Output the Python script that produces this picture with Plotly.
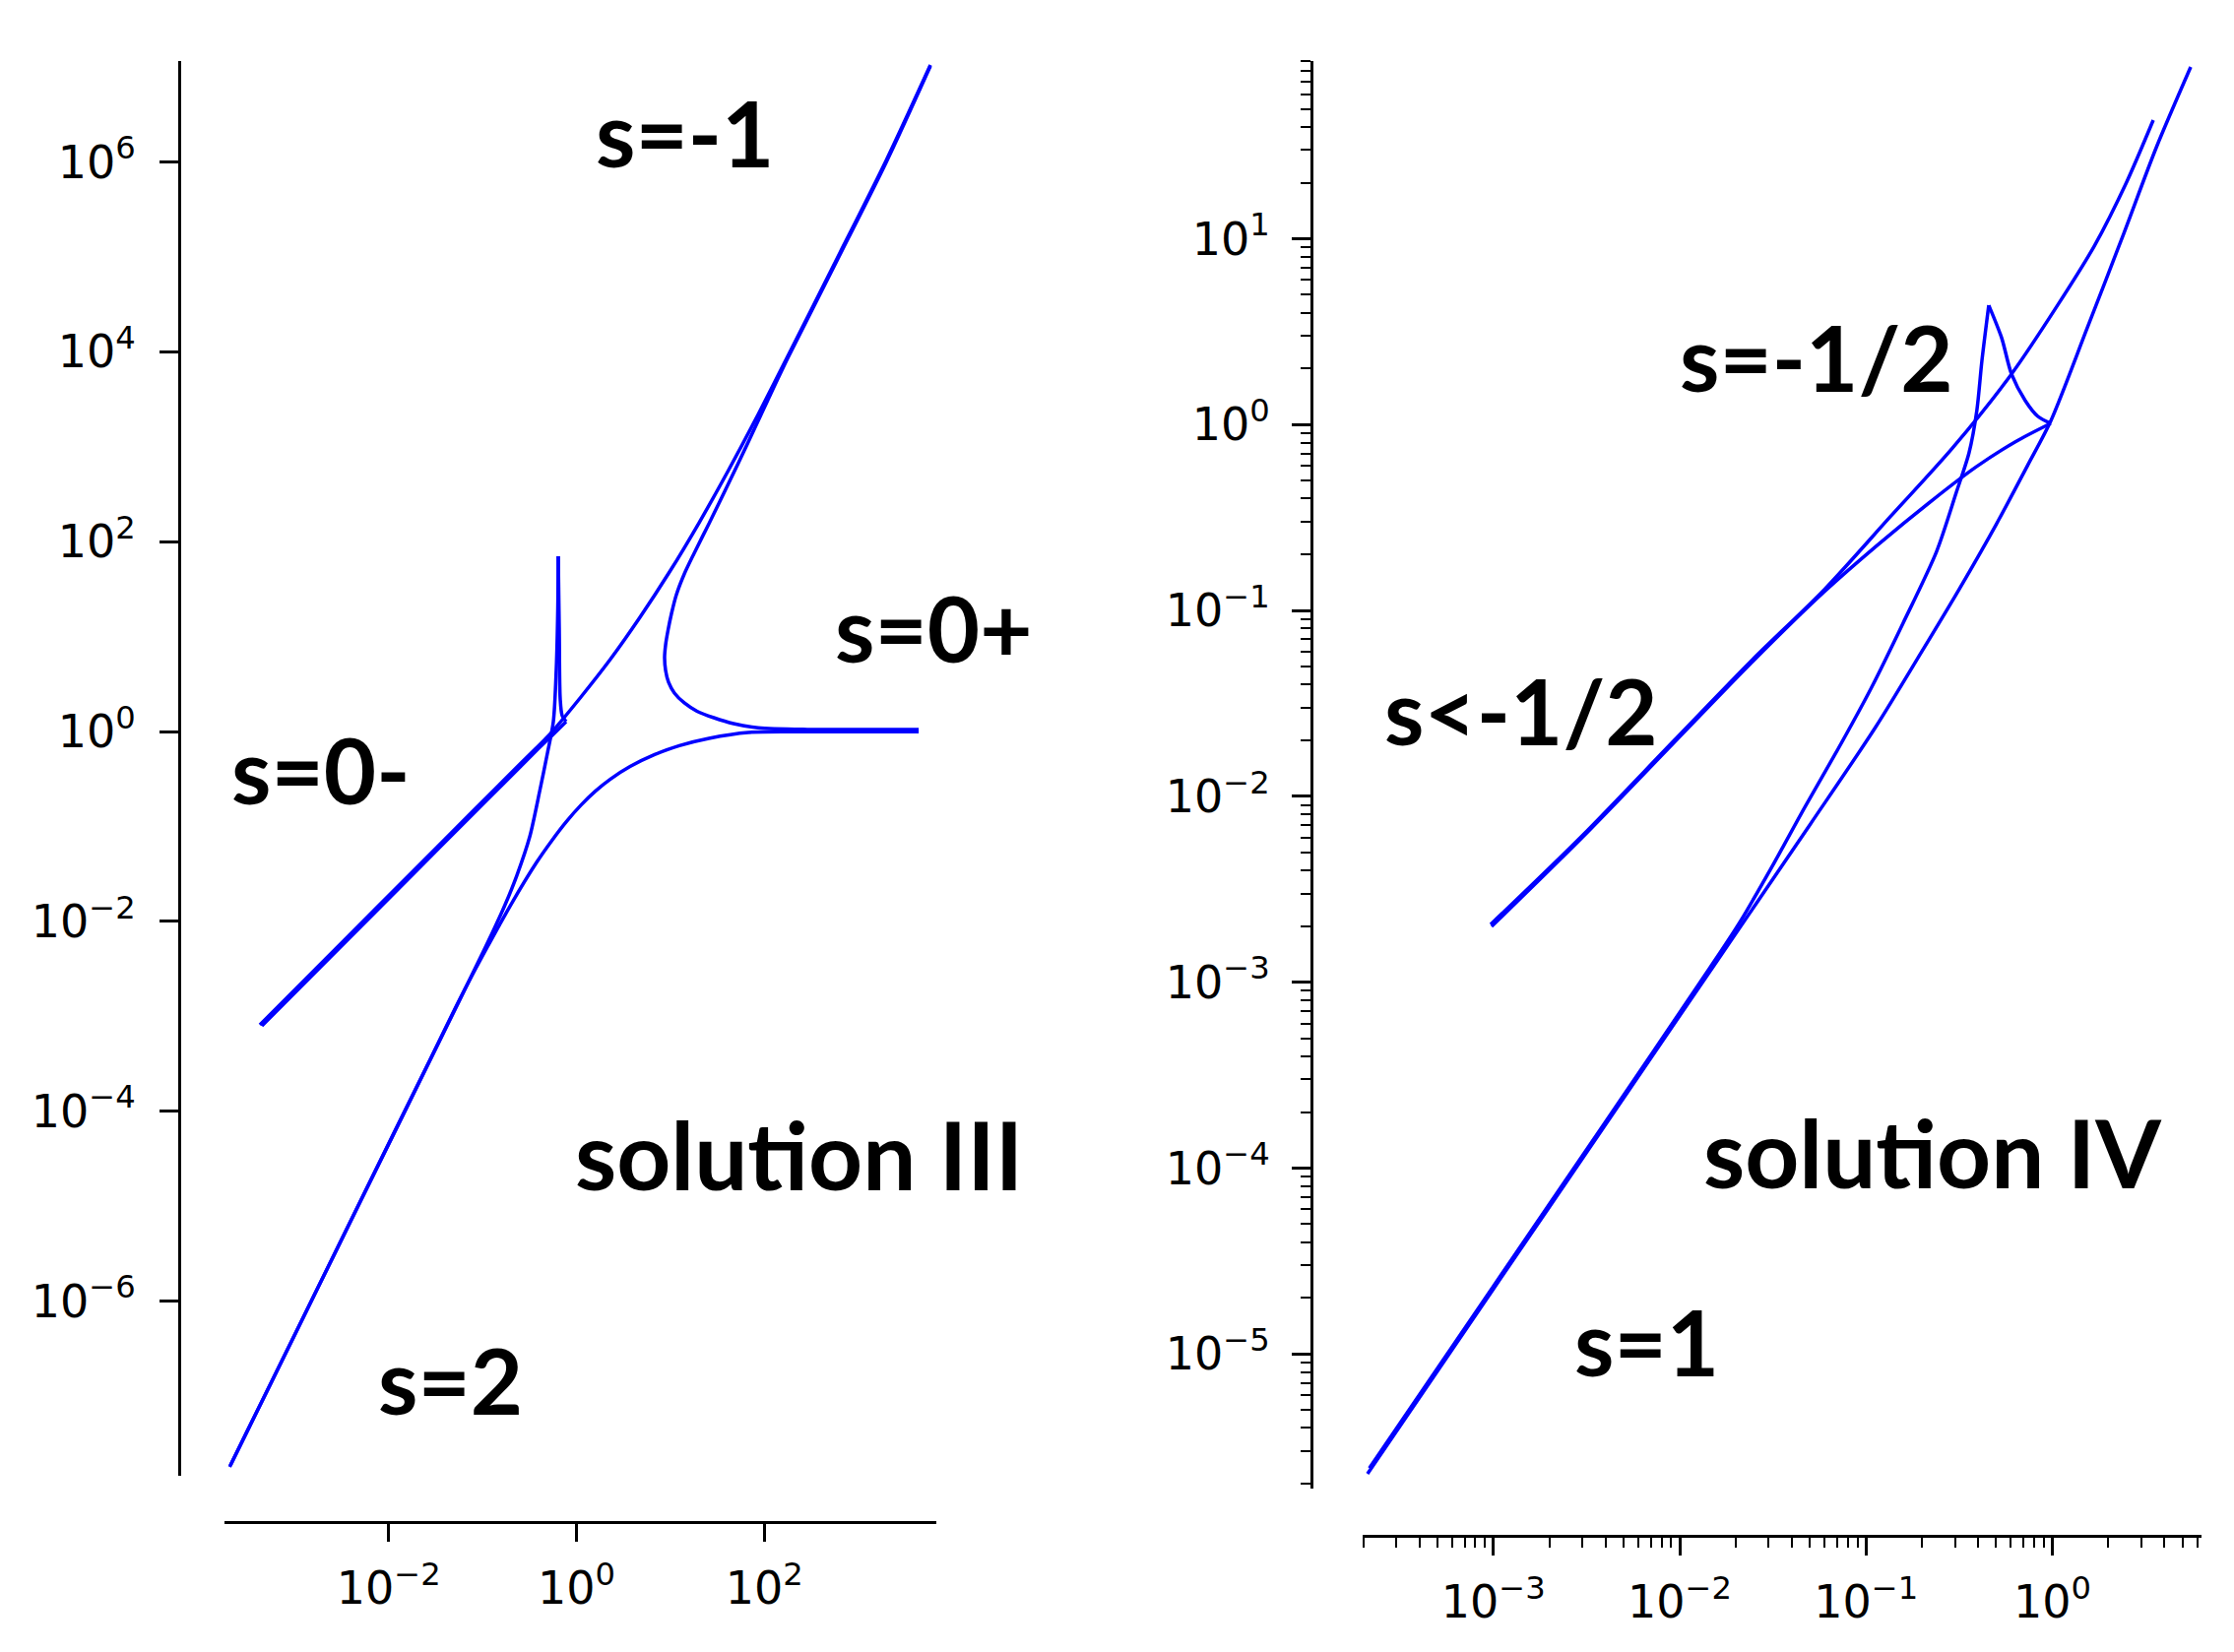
import numpy as np
import plotly.graph_objects as go

# ---------------- data (decade exponents, log10 of x and y) ----------------
# Left panel: solution III
A_lx = [-3.692, -2.993, -2.293, -1.595, -1.211, -1.053, -0.896, -0.760, -0.634, -0.498, -0.388, -0.309,
        -0.246, -0.215, -0.199, -0.194, -0.183, -0.173, -0.152, -0.110, -0.267, -0.425, -0.791, -1.106,
        -1.735, -2.469, -3.349]
A_ly = [-7.749, -6.344, -4.938, -3.537, -2.765, -2.443, -2.121, -1.826, -1.515, -1.110, -0.612, -0.228,
        0.104, 0.654, 1.276, 1.846, 1.068, 0.342, 0.166, 0.104, -0.048, -0.199, -0.563, -0.874,
        -1.499, -2.227, -3.102]
A_breaks = [15, 19]

B_lx = [-3.370, -2.469, -1.735, -1.106, -0.582, -0.267, 0.047, 0.362, 0.676, 0.990, 1.305, 1.619,
        1.934, 2.248, 2.772, 3.297, 3.768]
B_ly = [-3.091, -2.196, -1.468, -0.843, -0.324, -0.011, 0.363, 0.762, 1.203, 1.680, 2.199, 2.754,
        3.340, 3.952, 4.979, 6.017, 7.023]

C_lx = [-3.685, -2.987, -2.290, -1.593, -1.211, -0.949, -0.687, -0.425, -0.267, -0.110, 0.047, 0.204,
        0.362, 0.571, 0.833, 1.096, 1.410, 1.829, 2.458, 3.643]
C_ly = [-7.733, -6.333, -4.927, -3.527, -2.759, -2.272, -1.805, -1.380, -1.156, -0.953, -0.777, -0.627,
        -0.502, -0.369, -0.243, -0.149, -0.072, -0.010, -0.003, -0.002]

D_lx = [3.643, 2.458, 1.934, 1.672, 1.462, 1.284, 1.148, 1.043, 0.980, 0.949, 0.938, 0.949, 0.975,
        1.012, 1.064, 1.148, 1.253, 1.410, 1.619, 1.829, 2.039, 2.248, 2.772, 3.297, 3.768]
D_ly = [0.022, 0.022, 0.039, 0.083, 0.145, 0.213, 0.301, 0.405, 0.519, 0.643, 0.778, 0.913, 1.068,
        1.245, 1.442, 1.660, 1.878, 2.189, 2.614, 3.050, 3.496, 3.931, 4.959, 5.996, 7.012]

# Right panel: solution IV
R1a_lx = [-3.015, -2.524, -2.032, -1.609, -1.224, -0.870, -0.536, -0.219, 0.029, 0.225, 0.399, 0.542]
R1a_ly = [-2.689, -2.212, -1.701, -1.264, -0.888, -0.496, -0.126, 0.272, 0.643, 0.960, 1.305, 1.638]

R1b_lx = [-3.010, -2.524, -2.032, -1.609, -1.224, -0.938, -0.642, -0.410, -0.198, -0.008, -0.077, -0.145,
          -0.219, -0.272, -0.341, -0.378, -0.405, -0.447, -0.515, -0.621, -0.801, -0.975, -1.150, -1.329,
          -1.504, -1.678, -1.837, -2.400, -3.000, -3.666]
R1b_ly = [-2.700, -2.222, -1.712, -1.275, -0.899, -0.648, -0.405, -0.228, -0.092, 0.007, 0.044, 0.129,
          0.272, 0.467, 0.642, 0.341, 0.076, -0.152, -0.364, -0.682, -1.068, -1.423, -1.745, -2.059,
          -2.377, -2.678, -2.921, -3.753, -4.635, -5.614]
R1b_breaks = [9, 14]

R3_lx = [-3.676, -3.000, -2.400, -1.800, -1.300, -0.950, -0.700, -0.500, -0.300, -0.130, -0.008, 0.188,
         0.384, 0.558, 0.743]
R3_ly = [-5.644, -4.650, -3.768, -2.886, -2.151, -1.630, -1.220, -0.886, -0.535, -0.215, 0.020, 0.521,
         1.029, 1.490, 1.924]

# tick values / labels
left_x_ticks = [1e-2, 1e0, 1e2]
left_x_labels = ["10<sup>\u22122</sup>", "10<sup>0</sup>", "10<sup>2</sup>"]
left_y_ticks = [1e-6, 1e-4, 1e-2, 1e0, 1e2, 1e4, 1e6]
left_y_labels = ["10<sup>\u22126</sup>", "10<sup>\u22124</sup>", "10<sup>\u22122</sup>", "10<sup>0</sup>",
                 "10<sup>2</sup>", "10<sup>4</sup>", "10<sup>6</sup>"]
right_x_ticks = [1e-3, 1e-2, 1e-1, 1e0]
right_x_labels = ["10<sup>\u22123</sup>", "10<sup>\u22122</sup>", "10<sup>\u22121</sup>", "10<sup>0</sup>"]
right_y_ticks = [1e-5, 1e-4, 1e-3, 1e-2, 1e-1, 1e0, 1e1]
right_y_labels = ["10<sup>\u22125</sup>", "10<sup>\u22124</sup>", "10<sup>\u22123</sup>", "10<sup>\u22122</sup>",
                  "10<sup>\u22121</sup>", "10<sup>0</sup>", "10<sup>1</sup>"]

labels_left = ["s=-1", "s=0+", "s=0-", "solution III", "s=2"]
labels_right = ["s=-1/2", "s<-1/2", "solution IV", "s=1"]

# ---------------- figure ----------------
W, H = 2269, 1678
BLUE = "#0000ff"


def pxx(v):
    return v / W


def pxy(v):
    return 1 - v / H


fig = go.Figure()


def add_curve(lx, ly, xa, ya, breaks=()):
    lx = np.array(lx)
    ly = np.array(ly)
    idx = [0] + list(breaks) + [len(lx) - 1]
    for a, b in zip(idx[:-1], idx[1:]):
        fig.add_trace(go.Scatter(
            x=np.power(10.0, lx[a:b + 1]), y=np.power(10.0, ly[a:b + 1]),
            mode="lines", xaxis=xa, yaxis=ya,
            line=dict(color=BLUE, width=3.5, shape="spline", smoothing=0.8),
            hoverinfo="skip", showlegend=False))


add_curve(A_lx, A_ly, "x", "y", A_breaks)
add_curve(B_lx, B_ly, "x", "y")
add_curve(C_lx, C_ly, "x", "y")
add_curve(D_lx, D_ly, "x", "y")
add_curve(R1a_lx, R1a_ly, "x2", "y2")
add_curve(R1b_lx, R1b_ly, "x2", "y2", R1b_breaks)
add_curve(R3_lx, R3_ly, "x2", "y2")

tickfont = dict(family="DejaVu Sans", size=46, color="black")
common = dict(type="log", showgrid=False, zeroline=False, showline=True, linecolor="black",
              linewidth=3, ticks="outside", tickcolor="black", tickwidth=3, tickfont=tickfont,
              tickmode="array", anchor="free", fixedrange=True)

minor_x2 = [m * 10.0 ** e for e in range(-4, 1) for m in range(2, 10)]
minor_y2 = [m * 10.0 ** e for e in range(-6, 2) for m in range(2, 10)]

fig.update_layout(
    width=W, height=H, margin=dict(l=0, r=0, t=0, b=0), autosize=False,
    paper_bgcolor="white", plot_bgcolor="white", showlegend=False,
    xaxis=dict(common, domain=[pxx(228), pxx(951)], range=[-3.747, 3.831], position=pxy(1546),
               tickvals=left_x_ticks, ticktext=left_x_labels, ticklen=18, ticklabelstandoff=8),
    yaxis=dict(common, domain=[pxy(1499), pxy(62)], range=[-7.842, 7.064], position=pxx(182),
               tickvals=left_y_ticks, ticktext=left_y_labels, ticklen=19, ticklabelstandoff=15),
    xaxis2=dict(common, domain=[pxx(1384), pxx(2236)], range=[-3.702, 0.801], position=pxy(1560),
                tickvals=right_x_ticks, ticktext=right_x_labels, ticklen=18, ticklabelstandoff=8,
                minor=dict(tickmode="array", tickvals=minor_x2, ticks="outside", ticklen=10,
                           tickwidth=2, tickcolor="black", showgrid=False)),
    yaxis2=dict(common, domain=[pxy(1512), pxy(62)], range=[-5.724, 1.956], position=pxx(1332),
                tickvals=right_y_ticks, ticktext=right_y_labels, ticklen=19, ticklabelstandoff=13,
                minor=dict(tickmode="array", tickvals=minor_y2, ticks="outside", ticklen=10,
                           tickwidth=2, tickcolor="black", showgrid=False)),
)

# text labels: (left edge px, baseline px, font size)
text_pos_left = [(603, 170, 92), (846, 673, 92), (233, 817, 92), (582, 1209, 96), (382, 1437, 92)]
text_pos_right = [(1704, 398, 92), (1404, 757, 92), (1728, 1207, 96), (1597, 1398, 92)]
for txt, (lx, base, fs) in zip(labels_left + labels_right, text_pos_left + text_pos_right):
    fig.add_annotation(text=txt, xref="paper", yref="paper", x=pxx(lx), y=pxy(base + 22),
                       xanchor="left", yanchor="bottom", showarrow=False,
                       font=dict(family="Lato", size=fs, color="black", weight="bold"))

fig.write_html("out.html", config={"displayModeBar": False},
               post_script="document.body.style.margin='0px';")
